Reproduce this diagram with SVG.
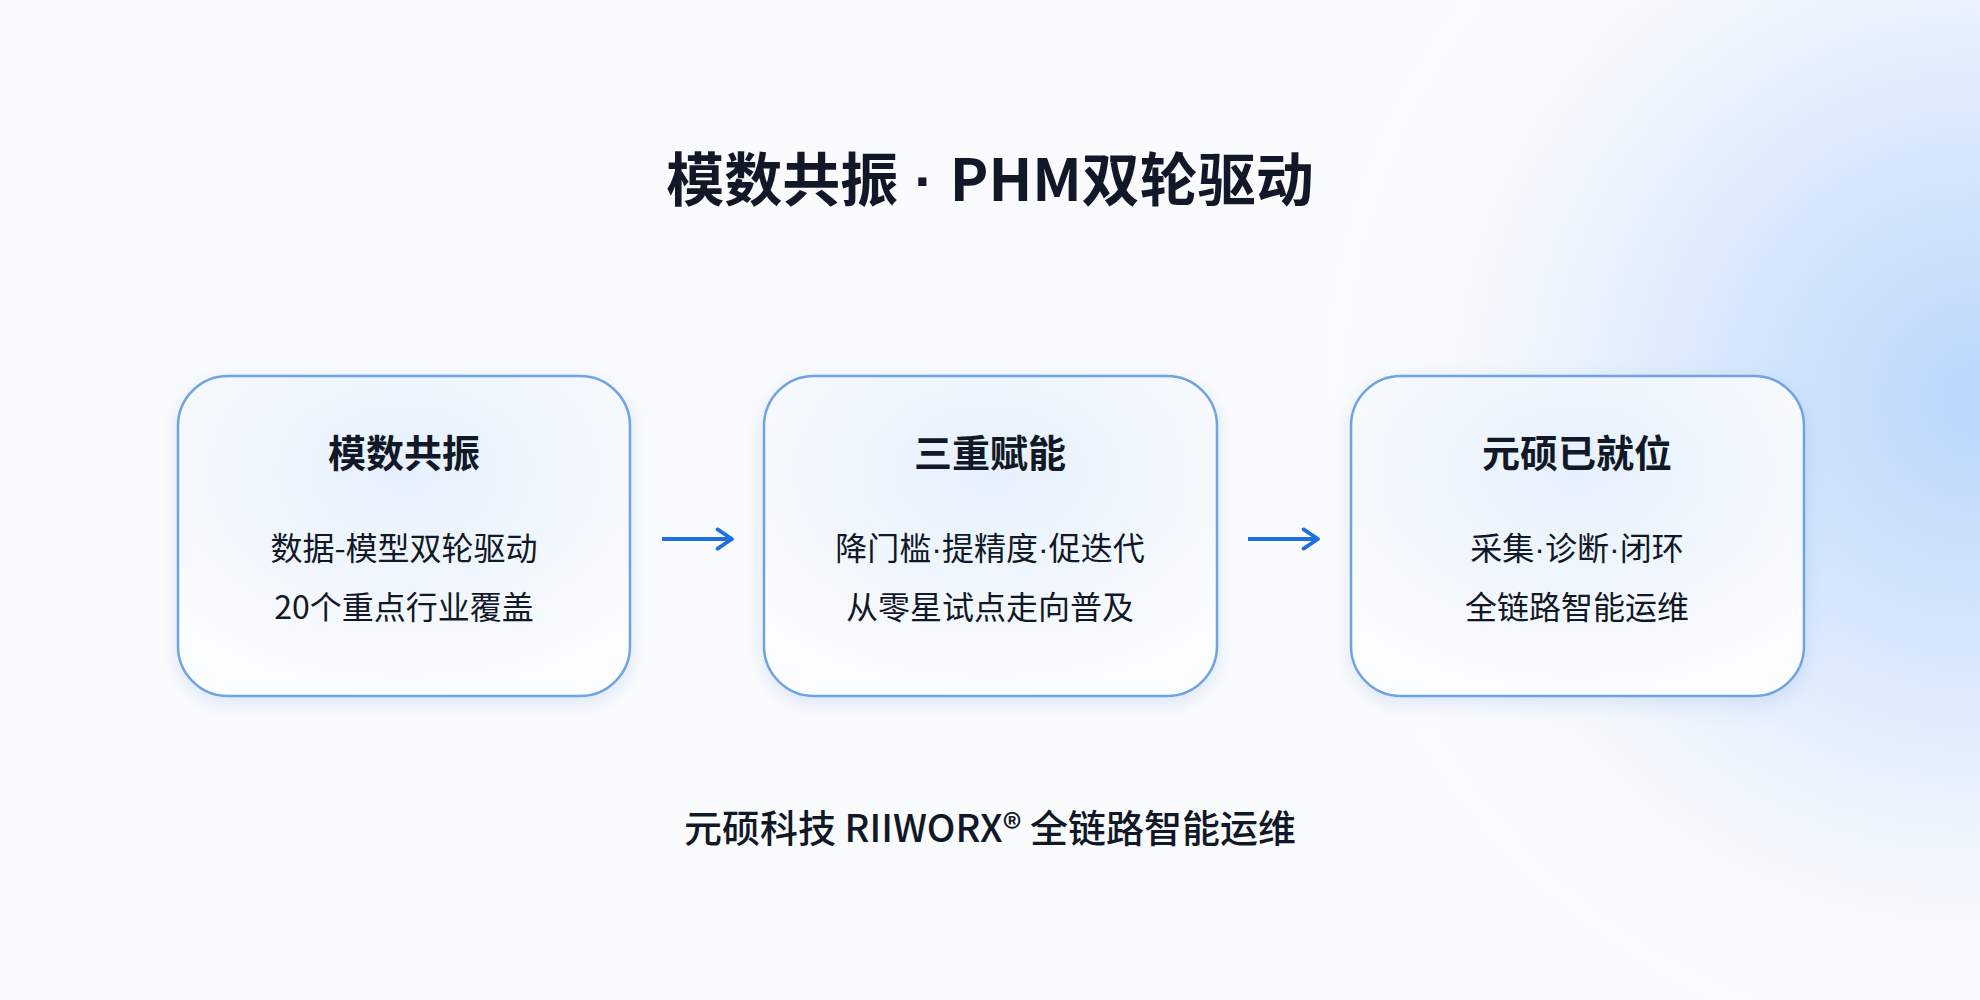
<svg xmlns="http://www.w3.org/2000/svg" width="1980" height="1000" viewBox="0 0 1980 1000">
<defs>
<radialGradient id="bg1" cx="1980" cy="400" r="700" gradientUnits="userSpaceOnUse">
<stop offset="0" stop-color="#b9d6fb"/><stop offset="0.5" stop-color="#e3eefc"/><stop offset="1" stop-color="#ffffff" stop-opacity="0"/>
</radialGradient>
<radialGradient id="nodebg" cx="0.5" cy="0.3" r="0.7">
<stop offset="0" stop-color="#e6f0fc"/><stop offset="1" stop-color="#fbfdff"/>
</radialGradient>
<filter id="sh" x="-20%" y="-20%" width="140%" height="140%"><feDropShadow dx="0" dy="6" stdDeviation="10" flood-color="#7aa7e6" flood-opacity="0.25"/></filter>
<marker id="ah" viewBox="0 0 10 10" refX="8" refY="5" markerWidth="24" markerHeight="24" markerUnits="userSpaceOnUse" orient="auto"><path d="M2,1 L8,5 L2,9" fill="none" stroke="#1f6fe0" stroke-width="1.6" stroke-linecap="round" stroke-linejoin="round"/></marker>
<style>
text{font-family:"Noto Sans CJK SC","Noto Sans",sans-serif;text-anchor:middle;fill:#111827}
.box{fill:url(#nodebg);stroke:#6fa3e4;stroke-width:2.5;filter:url(#sh)}
.h{font-size:38px;font-weight:700}
.b{font-size:32px}
.d{font-family:"Liberation Sans",sans-serif}
.con{stroke:#1f6fe0;stroke-width:4;fill:none}
</style>
</defs>
<rect width="1980" height="1000" fill="#fafbfd"/>
<rect width="1980" height="1000" fill="url(#bg1)"/>
<text x="990" y="201" style="font-size:58px;font-weight:700" fill="#0f172a">模数共振<tspan class="d"> · </tspan>PHM双轮驱动</text>
<g id="n1"><rect class="box" x="178" y="376" width="452" height="320" rx="50"/>
<text class="h" x="404" y="467">模数共振</text>
<text class="b" x="404" y="560">数据-模型双轮驱动</text>
<text class="b" x="404" y="619">20个重点行业覆盖</text></g>
<g id="n2"><rect class="box" x="764" y="376" width="453" height="320" rx="50"/>
<text class="h" x="990" y="467">三重赋能</text>
<text class="b" x="990" y="560">降门槛<tspan class="d">·</tspan>提精度<tspan class="d">·</tspan>促迭代</text>
<text class="b" x="990" y="619">从零星试点走向普及</text></g>
<g id="n3"><rect class="box" x="1351" y="376" width="453" height="320" rx="50"/>
<text class="h" x="1577" y="467">元硕已就位</text>
<text class="b" x="1577" y="560">采集<tspan class="d">·</tspan>诊断<tspan class="d">·</tspan>闭环</text>
<text class="b" x="1577" y="619">全链路智能运维</text></g>
<g id="connectors">
<line class="con" x1="662" y1="539" x2="732" y2="539" marker-end="url(#ah)"/>
<line class="con" x1="1248" y1="539" x2="1318" y2="539" marker-end="url(#ah)"/>
</g>
<text x="990" y="842" style="font-size:38px;font-weight:500">元硕科技 RIIWORX® 全链路智能运维</text>
</svg>
